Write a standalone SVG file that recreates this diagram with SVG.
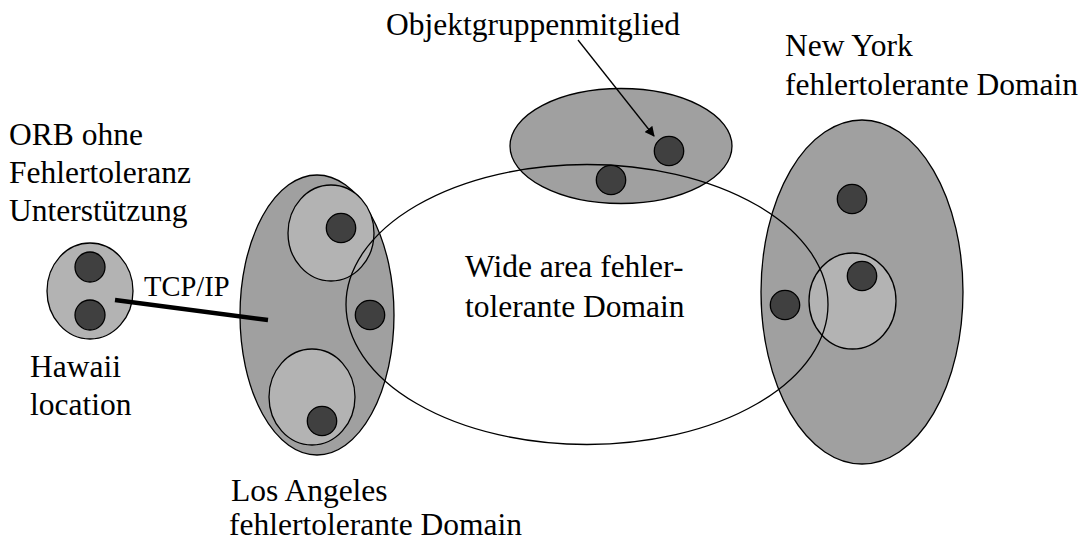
<svg xmlns="http://www.w3.org/2000/svg" width="1084" height="541" viewBox="0 0 1084 541">
<style>
text{font-family:"Liberation Serif","Times New Roman",serif;font-size:31.5px;fill:#000}
.dom{fill:#a0a0a0;stroke:#000;stroke-width:1.3}
.loc{fill:#b3b3b3;stroke:#000;stroke-width:1.3}
.obj{fill:#404040;stroke:#000;stroke-width:1.3}
.wide{fill:none;stroke:#000;stroke-width:1.3}
</style>
<defs>
<marker id="ah" markerWidth="10" markerHeight="10" refX="9" refY="5" orient="auto" markerUnits="userSpaceOnUse" viewBox="0 0 10 10">
<path d="M0,0 L10,5 L0,10 z" fill="#000"/>
</marker>
</defs>
<rect width="1084" height="541" fill="#fff"/>

<g id="hawaii">
<ellipse class="loc" cx="90" cy="291" rx="43" ry="48"/>
<circle class="obj" cx="90" cy="267" r="15"/>
<circle class="obj" cx="90" cy="315" r="15"/>
<text x="30" y="377">Hawaii</text>
<text x="30" y="415">location</text>
<text x="9" y="145">ORB ohne</text>
<text x="9" y="183">Fehlertoleranz</text>
<text x="9" y="221">Unterstützung</text>
</g>

<g id="losangeles">
<ellipse class="dom" cx="317" cy="315" rx="77" ry="140"/>
<ellipse class="loc" cx="331" cy="233" rx="43" ry="48"/>
<ellipse class="loc" cx="312" cy="397" rx="43" ry="48"/>
<circle class="obj" cx="341" cy="228" r="14.7"/>
<circle class="obj" cx="370" cy="315" r="14.7"/>
<circle class="obj" cx="322" cy="421" r="14.7"/>
<text x="231" y="501">Los Angeles</text>
<text x="229" y="535">fehlertolerante Domain</text>
</g>

<g id="objektgruppe">
<ellipse class="dom" cx="621" cy="146" rx="111" ry="57.5"/>
<text x="386" y="35">Objektgruppenmitglied</text>
</g>

<g id="newyork">
<ellipse class="dom" cx="862" cy="292" rx="101" ry="172"/>
<ellipse class="loc" cx="852.5" cy="301" rx="43.5" ry="48"/>
<circle class="obj" cx="852" cy="199" r="14.7"/>
<circle class="obj" cx="862" cy="276" r="14.7"/>
<circle class="obj" cx="785" cy="305" r="14.7"/>
<text x="785" y="56">New York</text>
<text x="785" y="95">fehlertolerante Domain</text>
</g>

<g id="widearea">
<ellipse class="wide" cx="587" cy="304.5" rx="241" ry="140"/>
<text x="465" y="277">Wide area fehler-</text>
<text x="465" y="317">tolerante Domain</text>
</g>

<g id="objects-top">
<circle class="obj" cx="669" cy="151" r="14.7"/>
<circle class="obj" cx="611" cy="180" r="14.7"/>
</g>

<g id="connectors">
<line x1="115" y1="300" x2="268" y2="320" stroke="#000" stroke-width="4.5"/>
<text x="144" y="296" style="font-size:28.5px">TCP/IP</text>
<line x1="578" y1="40" x2="654" y2="136" stroke="#000" stroke-width="1.3" marker-end="url(#ah)"/>
</g>
</svg>
